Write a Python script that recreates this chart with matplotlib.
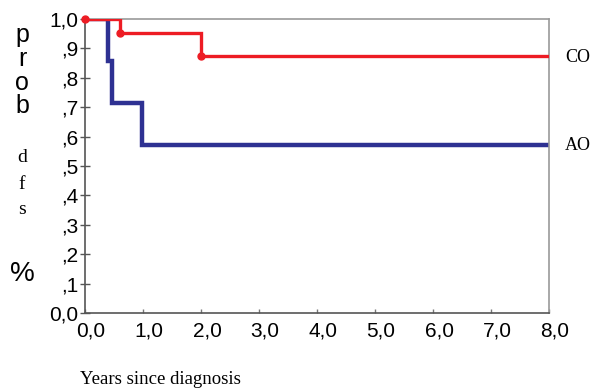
import matplotlib
matplotlib.use('Agg')
from matplotlib import pyplot as plt
import matplotlib.transforms as mtransforms

# survival steps (years, probability)
co_times = [0.0, 0.6, 2.0, 8.0]
co_surv = [1.0, 0.952, 0.875, 0.875]
co_marks_t = [0.0, 0.6, 2.0]
co_marks_s = [1.0, 0.952, 0.875]

ao_times = [0.0, 0.4, 0.47, 0.98, 8.0]
ao_surv = [1.0, 0.857, 0.714, 0.571, 0.571]

xticks = [0, 1, 2, 3, 4, 5, 6, 7, 8]
xtick_labels = ['0,0', '1,0', '2,0', '3,0', '4,0', '5,0', '6,0', '7,0', '8,0']
yticks = [0.0, 0.1, 0.2, 0.3, 0.4, 0.5, 0.6, 0.7, 0.8, 0.9, 1.0]
ytick_labels = ['0,0', ',1', ',2', ',3', ',4', ',5', ',6', ',7', ',8', ',9', '1,0']

red = '#ed1c24'
blue = '#2e3192'

fig = plt.figure(figsize=(5.92, 3.89), dpi=100)
ax = fig.add_axes([85/592, 1 - 313/389, (549-85)/592, (313-19)/389])

ax.step(ao_times, ao_surv, where='post', color=blue, lw=3.2, solid_joinstyle='miter', zorder=2)
ax.step(co_times, co_surv, where='post', color=red, lw=2.4, solid_joinstyle='miter', zorder=3)
ax.plot(co_marks_t, co_marks_s, 'o', color=red, ms=5, clip_on=False, zorder=4)

ax.set_xlim(0, 8)
ax.set_ylim(0, 1)
ax.set_xticks(xticks)
ax.set_xticklabels(xtick_labels, fontfamily='Liberation Sans', fontsize=15)
ax.set_yticks(yticks)
ax.set_yticklabels(ytick_labels, fontfamily='Liberation Sans', fontsize=15)
ax.tick_params(axis='y', direction='inout', length=7, width=1, color='#555555', pad=1)
ax.tick_params(axis='x', direction='in', length=3, width=1, color='#777777', pad=6)

# shift x tick labels a little to the right like the original
shift = mtransforms.ScaledTranslation(6/100, 0, fig.dpi_scale_trans)
for lab in ax.get_xticklabels():
    lab.set_transform(lab.get_transform() + shift)

for s in ['left', 'bottom']:
    ax.spines[s].set_color('#555555')
    ax.spines[s].set_linewidth(1.2)
for s in ['top', 'right']:
    ax.spines[s].set_color('#999999')
    ax.spines[s].set_linewidth(1.2)

# left side label letters (placed on their baselines)
sans = 'Liberation Sans'
serif = 'Liberation Serif'
for ch, y in [('p', 42), ('r', 66), ('o', 90), ('b', 113)]:
    fig.text(22/592, 1 - y/389, ch, fontfamily=sans, fontsize=18, ha='center', va='baseline')
for ch, y in [('d', 162), ('f', 189), ('s', 214)]:
    fig.text(22/592, 1 - y/389, ch, fontfamily=serif, fontsize=14, ha='center', va='baseline')
fig.text(22/592, 1 - 274/389, '%', fontfamily=sans, fontsize=20, ha='center', va='center')

fig.text(565/592, 1 - 57/389, 'CO', fontfamily=serif, fontsize=13, ha='left', va='center')
fig.text(565/592, 1 - 145/389, 'AO', fontfamily=serif, fontsize=13, ha='left', va='center')
fig.text(80/592, 1 - 379/389, 'Years since diagnosis', fontfamily=serif, fontsize=13.5,
         ha='left', va='center')

plt.savefig('out.png', dpi=100)
